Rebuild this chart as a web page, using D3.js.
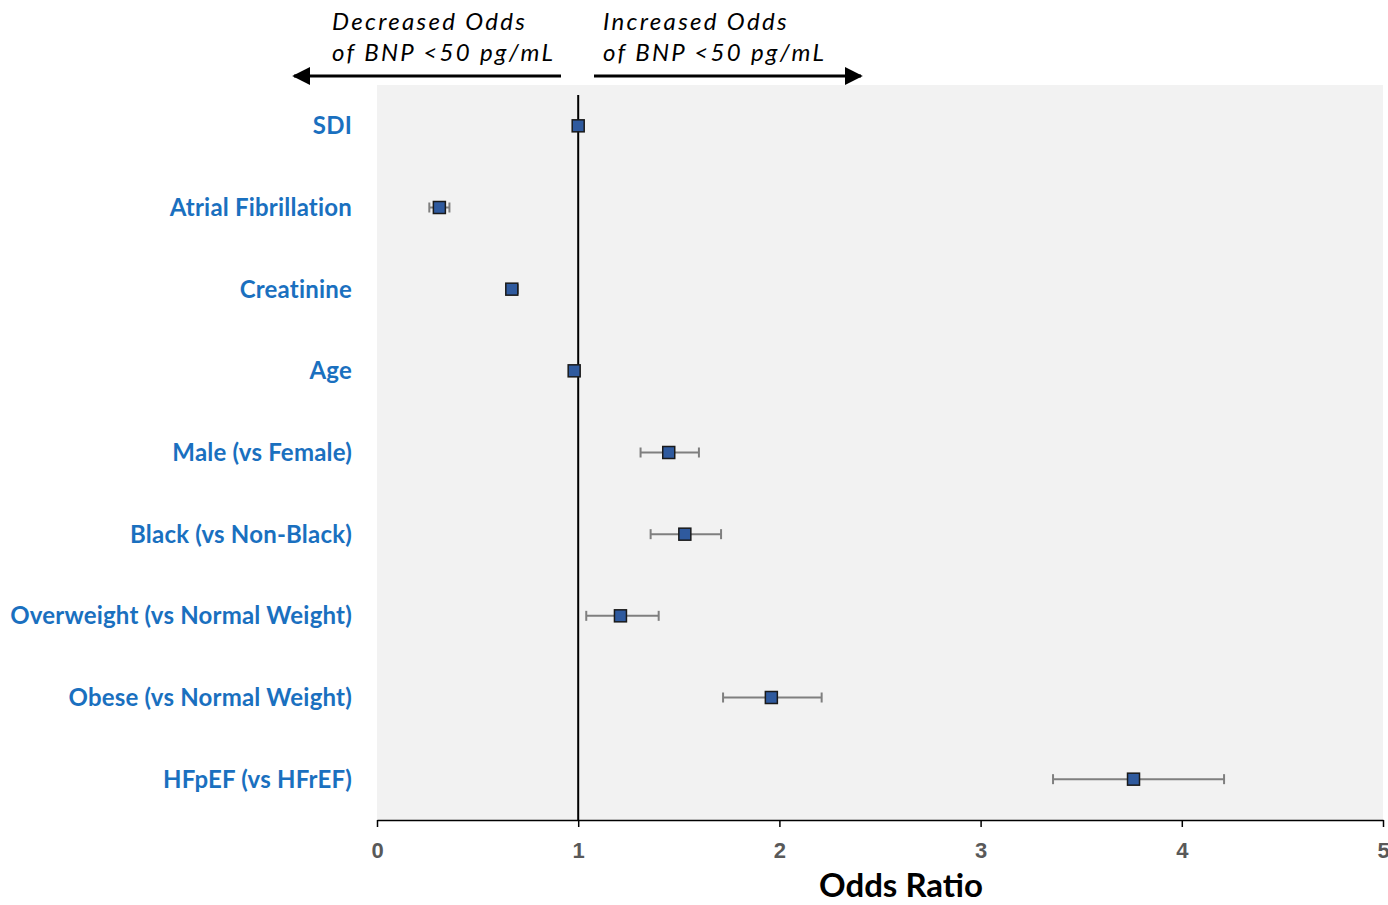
<!DOCTYPE html>
<html>
<head>
<meta charset="utf-8">
<script src="https://cdn.jsdelivr.net/npm/d3@7"></script>
<style>
  body { margin: 0; background: #fff; }
  svg { display: block; font-family: Lato, "Open Sans", sans-serif; }
</style>
</head>
<body>
<svg id="chart"></svg>
<script>
const categories = [
  "SDI",
  "Atrial Fibrillation",
  "Creatinine",
  "Age",
  "Male (vs Female)",
  "Black (vs Non-Black)",
  "Overweight (vs Normal Weight)",
  "Obese (vs Normal Weight)",
  "HFpEF (vs HFrEF)"
];
const oddsRatio = [1.00, 0.31, 0.67, 0.98, 1.45, 1.53, 1.21, 1.96, 3.76];
const ciLower = [0.99, 0.26, 0.645, 0.97, 1.31, 1.36, 1.04, 1.72, 3.36];
const ciUpper = [1.01, 0.36, 0.70, 0.99, 1.60, 1.71, 1.40, 2.21, 4.21];
const xTicks = [0, 1, 2, 3, 4, 5];

const width = 1388, height = 905;
const margin = { top: 85, right: 5, bottom: 85, left: 377 };

const svg = d3.select("#chart").attr("width", width).attr("height", height);

const x = d3.scaleLinear().domain([0, 5]).range([margin.left, width - margin.right]);
const y = d3.scaleBand().domain(categories).range([margin.top, height - margin.bottom]);

// plot background
svg.append("rect")
  .attr("x", x(0))
  .attr("y", margin.top)
  .attr("width", x(5) - x(0))
  .attr("height", height - margin.bottom - margin.top)
  .attr("fill", "#f2f2f2");

// x axis
const xAxis = svg.append("g")
  .attr("transform", `translate(0,${height - margin.bottom})`)
  .call(d3.axisBottom(x).tickValues(xTicks).tickFormat(d3.format("d"))
    .tickSize(7).tickSizeOuter(0).tickPadding(15));
xAxis.select(".domain").attr("stroke", "#000").attr("stroke-width", 1.5);
xAxis.selectAll(".tick line").attr("stroke", "#000").attr("stroke-width", 1.5);
xAxis.selectAll(".tick text")
  .attr("fill", "#595959")
  .style("font-size", "22px")
  .style("font-weight", "bold");

svg.append("text")
  .attr("x", 901)
  .attr("y", 897)
  .attr("text-anchor", "middle")
  .style("font-size", "33px")
  .style("font-weight", "bold")
  .attr("fill", "#000")
  .text("Odds Ratio");

// reference line at OR = 1
svg.append("line")
  .attr("x1", x(1)).attr("x2", x(1))
  .attr("y1", 95).attr("y2", height - margin.bottom)
  .attr("stroke", "#000")
  .attr("stroke-width", 2);

// category labels
svg.append("g")
  .selectAll("text")
  .data(categories)
  .join("text")
  .attr("x", 352)
  .attr("y", d => y(d) + y.bandwidth() / 2)
  .attr("dy", "0.35em")
  .attr("text-anchor", "end")
  .attr("fill", "#1a70bf")
  .style("font-size", "24px")
  .style("font-weight", "bold")
  .style("letter-spacing", "0.2px")
  .text(d => d);

// error bars
const rows = categories.map((c, i) => ({ c, or: oddsRatio[i], lo: ciLower[i], hi: ciUpper[i] }));
const cy = d => y(d.c) + y.bandwidth() / 2;

const eb = svg.append("g").attr("stroke", "#7f7f7f").attr("stroke-width", 2);
eb.selectAll(".ci")
  .data(rows)
  .join("line")
  .attr("x1", d => x(d.lo)).attr("x2", d => x(d.hi))
  .attr("y1", cy).attr("y2", cy);
eb.selectAll(".capL")
  .data(rows)
  .join("line")
  .attr("x1", d => x(d.lo)).attr("x2", d => x(d.lo))
  .attr("y1", d => cy(d) - 5).attr("y2", d => cy(d) + 5);
eb.selectAll(".capR")
  .data(rows)
  .join("line")
  .attr("x1", d => x(d.hi)).attr("x2", d => x(d.hi))
  .attr("y1", d => cy(d) - 5).attr("y2", d => cy(d) + 5);

// point estimates
const s = 12;
svg.append("g")
  .selectAll("rect")
  .data(rows)
  .join("rect")
  .attr("x", d => x(d.or) - s / 2)
  .attr("y", d => cy(d) - s / 2)
  .attr("width", s)
  .attr("height", s)
  .attr("fill", "#2f5a9e")
  .attr("stroke", "#1a1a1a")
  .attr("stroke-width", 1.5);

// direction annotations
const defs = svg.append("defs");
defs.append("marker")
  .attr("id", "arrow")
  .attr("viewBox", "0 0 10 10")
  .attr("refX", 9).attr("refY", 5)
  .attr("markerWidth", 6).attr("markerHeight", 6)
  .attr("orient", "auto-start-reverse")
  .append("path")
  .attr("d", "M0,0 L10,5 L0,10 z")
  .attr("fill", "#000");

svg.append("line")
  .attr("x1", 561).attr("x2", 294).attr("y1", 76).attr("y2", 76)
  .attr("stroke", "#000").attr("stroke-width", 3)
  .attr("marker-end", "url(#arrow)");
svg.append("line")
  .attr("x1", 594).attr("x2", 861).attr("y1", 76).attr("y2", 76)
  .attr("stroke", "#000").attr("stroke-width", 3)
  .attr("marker-end", "url(#arrow)");

const notes = [
  { x: 332, lines: ["Decreased Odds", "of BNP <50 pg/mL"] },
  { x: 603, lines: ["Increased Odds", "of BNP <50 pg/mL"] }
];
notes.forEach(n => {
  n.lines.forEach((t, i) => {
    svg.append("text")
      .attr("x", n.x)
      .attr("y", 30 + i * 31)
      .style("font-size", "24px")
      .style("font-style", "italic")
      .style("letter-spacing", "2.3px")
      .attr("fill", "#000")
      .text(t);
  });
});
</script>
</body>
</html>
